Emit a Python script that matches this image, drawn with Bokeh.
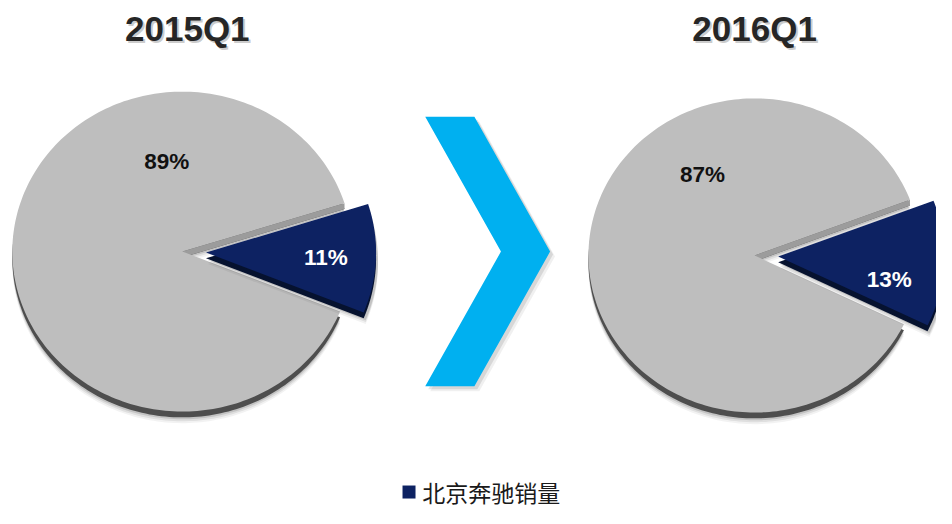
import numpy as np
from bokeh.plotting import figure
from bokeh.models import Range1d
from bokeh.core.properties import value
from bokeh.embed import file_html
from bokeh.resources import INLINE

# ---------------- data ----------------
quarters = ["2015Q1", "2016Q1"]
benz_share = [11, 13]        # 北京奔驰销量 share (%)
other_share = [89, 87]       # remaining share (%)
series_label = "北京奔驰销量"

# ---------------- layout (reference pixel space) ----------------
pie_cx = [185, 767]
pie_cy = [259, 263]
pie_rx = [173, 169]
pie_ry = [165, 162]
slice_start = [-22, -26]     # start angle of the highlighted slice (deg)
explode = 24
depth = 6
title_xy = [(190, 29), (767, 29)]
other_label_xy = [(169, 166), (714, 179)]
benz_label_xy = [(331, 265), (904, 288)]

GRAY = "#BEBEBE"
GRAY_RIM = "#4E4E4E"
GRAY_SIDE = "#9C9C9C"
NAVY = "#0D2262"
NAVY_SIDE = "#06122F"
BLUE = "#00B0F0"


def Y(v):
    return -v


def wedge(cx, cy, rx, ry, a0, a1, dx=0.0, dy=0.0, n=240):
    t = np.radians(np.linspace(a0, a1, n))
    xs = [cx + dx] + list(cx + dx + rx * np.cos(t))
    ys = [Y(cy) - dy] + list(Y(cy) - dy + ry * np.sin(t))
    return xs, ys


p = figure(width=936, height=508, x_range=Range1d(0, 952), y_range=Range1d(-524, 0),
           output_backend="svg", toolbar_location=None, min_border=0,
           x_axis_location=None, y_axis_location=None)
p.grid.visible = False
p.outline_line_color = None
p.background_fill_color = "white"
p.border_fill_color = "white"

for i in range(len(quarters)):
    cx, cy, rx, ry = pie_cx[i], pie_cy[i], pie_rx[i], pie_ry[i]
    span = benz_share[i] * 3.6
    b0 = slice_start[i]
    b1 = b0 + span
    mid = np.radians((b0 + b1) / 2)
    ex, ey = explode * np.cos(mid), -explode * np.sin(mid)  # ey in ref pixels (down positive)

    # gray part
    g0, g1 = b1, b0 + 360
    for k, a in [(depth + 6, 0.05), (depth + 4, 0.08), (depth + 2, 0.12)]:
        xs, ys = wedge(cx, cy, rx, ry, g0, g1, dy=k)
        p.patch(xs, ys, fill_color="black", fill_alpha=a, line_color=None)
    xs, ys = wedge(cx, cy, rx, ry, g0, g1, dy=depth)
    p.patch(xs, ys, fill_color=GRAY_RIM, line_color=None)
    # inner side face along the upper cut edge
    ox, oy = cx + rx * np.cos(np.radians(g0)), Y(cy) + ry * np.sin(np.radians(g0))
    p.patch([cx, ox, ox, cx], [Y(cy), oy, oy - depth, Y(cy) - depth],
            fill_color=GRAY_SIDE, line_color=None)
    xs, ys = wedge(cx, cy, rx, ry, g0, g1)
    p.patch(xs, ys, fill_color=GRAY, line_color=None)

    # highlighted slice
    for k, a in [(depth + 6, 0.05), (depth + 4, 0.08), (depth + 2, 0.12)]:
        xs, ys = wedge(cx, cy, rx, ry, b0, b1, dx=ex + 2, dy=ey + k)
        p.patch(xs, ys, fill_color="black", fill_alpha=a, line_color=None)
    xs, ys = wedge(cx, cy, rx, ry, b0, b1, dx=ex, dy=ey + depth)
    p.patch(xs, ys, fill_color=NAVY_SIDE, line_color=None)
    xs, ys = wedge(cx, cy, rx, ry, b0, b1, dx=ex, dy=ey)
    p.patch(xs, ys, fill_color=NAVY, line_color=None)

    # titles with soft shadow
    tx, ty = title_xy[i]
    p.text([tx + 2], [Y(ty) - 2], text=[quarters[i]], text_align="center", text_baseline="middle",
           text_font=value("Liberation Sans"), text_font_style="bold", text_font_size="35px",
           text_color="#8C8C8C", text_alpha=0.45)
    p.text([tx], [Y(ty)], text=[quarters[i]], text_align="center", text_baseline="middle",
           text_font=value("Liberation Sans"), text_font_style="bold", text_font_size="35px",
           text_color="#262626")

    # value labels
    lx, ly = other_label_xy[i]
    p.text([lx], [Y(ly)], text=[f"{other_share[i]}%"], text_align="center", text_baseline="middle",
           text_font=value("Liberation Sans"), text_font_style="bold", text_font_size="22.5px",
           text_color="#111111")
    lx, ly = benz_label_xy[i]
    p.text([lx], [Y(ly)], text=[f"{benz_share[i]}%"], text_align="center", text_baseline="middle",
           text_font=value("Liberation Sans"), text_font_style="bold", text_font_size="22.5px",
           text_color="white")

# chevron arrow between the pies
ch_left, ch_width, ch_depth, ch_top, ch_bottom = 432, 50, 77, 120, 398
ch_mid = (ch_top + ch_bottom) / 2
chx = [ch_left, ch_left + ch_width, ch_left + ch_width + ch_depth, ch_left + ch_width,
       ch_left, ch_left + ch_depth]
chy = [Y(ch_top), Y(ch_top), Y(ch_mid), Y(ch_bottom), Y(ch_bottom), Y(ch_mid)]
for k, a in [(5, 0.06), (3, 0.1)]:
    p.patch([x + k for x in chx], [y - k for y in chy], fill_color="black", fill_alpha=a, line_color=None)
p.patch(chx, chy, fill_color=BLUE, line_color=None)

# legend
p.scatter([415.5], [Y(507)], marker="square", size=13, fill_color=NAVY, line_color=None)
p.text([429], [Y(506.5)], text=[series_label], text_align="left", text_baseline="middle",
       text_font=value("Noto Sans CJK SC"), text_font_size="23px", text_color="#1A1A1A")

open("out.html", "w").write(file_html(p, INLINE))
